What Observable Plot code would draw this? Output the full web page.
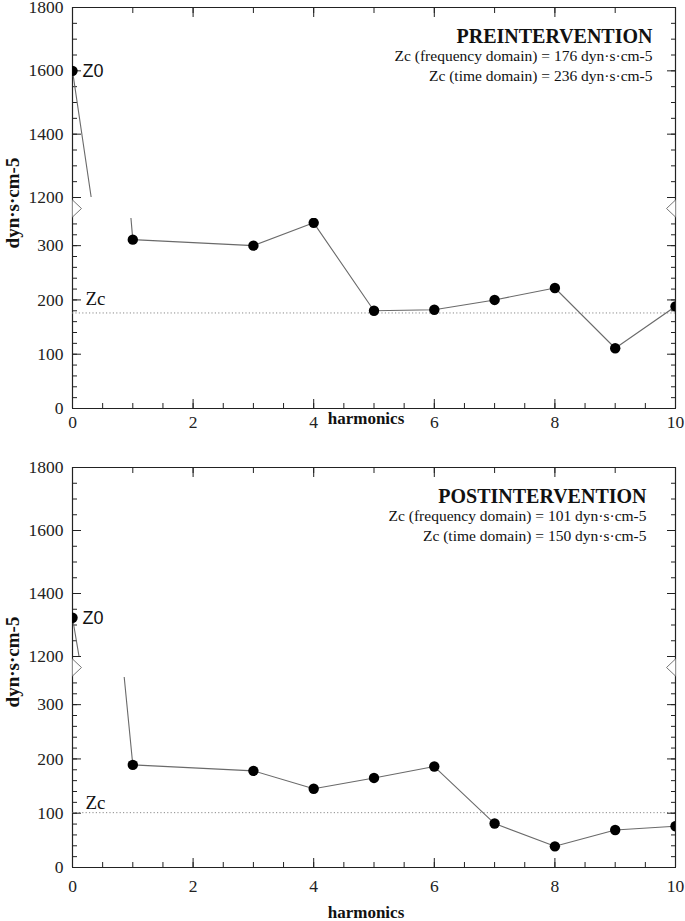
<!DOCTYPE html>
<html>
<head>
<meta charset="utf-8">
<script src="https://cdn.jsdelivr.net/npm/d3@7"></script>
<script src="https://cdn.jsdelivr.net/npm/@observablehq/plot@0.6"></script>
<style>
  html, body { margin: 0; padding: 0; background: #fff; }
  #chart { width: 685px; height: 921px; position: relative; overflow: hidden; }
  #chart svg { display: block; }
</style>
</head>
<body>
<div id="chart"></div>
<script>
// ---- data ----
const harmonics = [0, 1, 3, 4, 5, 6, 7, 8, 9, 10];
const preValues = [1600, 311, 300, 342, 180, 182, 200, 222, 111, 188];
const postValues = [1323, 189, 178, 145, 165, 186, 81, 39, 69, 76];
const zcFreq = [176, 101];
const zcTime = [236, 150];
const panelTitles = ["PREINTERVENTION", "POSTINTERVENTION"];
const unit = "dyn·s·cm-5";
const xMajorTicks = [0, 2, 4, 6, 8, 10];
const xTopTicks = d3.range(0, 10.01, 1);
const xBottomTicks = d3.range(0, 10.01, 0.5);
const yUpperMajor = [1200, 1400, 1600, 1800];
const yUpperMinor = d3.range(1200, 1801, 50);
const yLowerMajor = [0, 100, 200, 300];
const yLowerMinor = d3.range(0, 341, 20);

// ---- layout ----
const W = 685, ML = 72, MR = 10;
const layouts = [
  {upTop: 7, upH: 190, gapA: 10, loTop: 11, loH: 190, loBottom: 29, labelPad: 7, hDy: 10, txtDx: -23, zcDy: -14},
  {upTop: 30, upH: 189, gapA: 10, loTop: 11, loH: 190, loBottom: 54, labelPad: 12, hDy: 45, txtDx: -29, zcDy: -10}
];
const axisColor = "#222";
const serif = "Liberation Serif, Times New Roman, serif";
const sans = "Liberation Sans, Arial, sans-serif";
const svgStyle = {background: "transparent", overflow: "visible", fontFamily: serif, fontSize: "17px", color: axisColor};
const blank = () => "";
const plain = d => String(d);

const breakLeft = {draw(c) { c.moveTo(0, -8.5); c.lineTo(9, 0); c.lineTo(0, 8.5); }};
const breakRight = {draw(c) { c.moveTo(0, -8.5); c.lineTo(-9, 0); c.lineTo(0, 8.5); }};

function yTicks(major, minor) {
  return [
    Plot.axisY(minor, {anchor: "left", tickSize: -5, tickFormat: blank, label: null}),
    Plot.axisY(major, {anchor: "left", tickSize: -9, tickFormat: blank, label: null}),
    Plot.axisY(minor, {anchor: "right", tickSize: -5, tickFormat: blank, label: null}),
    Plot.axisY(major, {anchor: "right", tickSize: -9, tickFormat: blank, label: null}),
    Plot.axisY(major, {anchor: "left", tickSize: 0, tickPadding: 9, fontSize: 17.5, tickFormat: plain, label: null})
  ];
}

function makePanel(i, values) {
  const L = layouts[i];
  const data = harmonics.map((h, k) => ({h, v: values[k]}));
  const seriesMarks = [
    Plot.line(data, {x: "h", y: "v", stroke: "#6a6a6a", strokeWidth: 1.1, clip: true}),
    Plot.dot(data, {x: "h", y: "v", r: 5.2, fill: "#000", clip: true})
  ];

  const upper = Plot.plot({
    width: W, height: L.upTop + L.upH + L.gapA,
    marginLeft: ML, marginRight: MR, marginTop: L.upTop, marginBottom: L.gapA,
    x: {domain: [0, 10], axis: null},
    y: {domain: [1200, 1800], axis: null},
    style: svgStyle,
    marks: [
      Plot.ruleX([0, 10], {stroke: axisColor, strokeWidth: 1.2, insetBottom: -L.gapA}),
      Plot.ruleY([1800], {stroke: axisColor, strokeWidth: 1.2}),
      Plot.axisX(xTopTicks, {anchor: "top", tickSize: -5, tickFormat: blank, label: null}),
      Plot.axisX(xMajorTicks, {anchor: "top", tickSize: -9, tickFormat: blank, label: null}),
      ...yTicks(yUpperMajor, yUpperMinor),
      ...seriesMarks,
      Plot.text([data[0]], {x: "h", y: "v", text: () => "Z0", dx: 10, textAnchor: "start", fontFamily: sans, fontSize: 18, fill: "#111"}),
      Plot.text([panelTitles[i]], {frameAnchor: "top-right", dx: L.txtDx, dy: 29.5, textAnchor: "end", lineAnchor: "middle", fontWeight: "bold", fontSize: 20, fill: "#111"}),
      Plot.text([`Zc (frequency domain) = ${zcFreq[i]} ${unit}`], {frameAnchor: "top-right", dx: L.txtDx, dy: 49, textAnchor: "end", lineAnchor: "middle", fontSize: 15.5, fill: "#111"}),
      Plot.text([`Zc (time domain) = ${zcTime[i]} ${unit}`], {frameAnchor: "top-right", dx: L.txtDx, dy: 68.5, textAnchor: "end", lineAnchor: "middle", fontSize: 15.5, fill: "#111"})
    ]
  });

  const lower = Plot.plot({
    width: W, height: L.loTop + L.loH + L.loBottom,
    marginLeft: ML, marginRight: MR, marginTop: L.loTop, marginBottom: L.loBottom,
    x: {domain: [0, 10], axis: null},
    y: {domain: [0, 350], axis: null},
    style: svgStyle,
    marks: [
      Plot.ruleX([0, 10], {stroke: axisColor, strokeWidth: 1.2, insetTop: -L.loTop}),
      Plot.ruleY([0], {stroke: axisColor, strokeWidth: 1.2}),
      Plot.ruleY([zcFreq[i]], {stroke: "#8a8a8a", strokeWidth: 1, strokeDasharray: "1.2,2.2"}),
      Plot.text(["Zc"], {x: 0, y: zcFreq[i], dx: 13, dy: L.zcDy, textAnchor: "start", lineAnchor: "middle", fontSize: 19, fill: "#111"}),
      Plot.axisX(xBottomTicks, {anchor: "bottom", tickSize: -5, tickFormat: blank, label: null}),
      Plot.axisX(xMajorTicks, {anchor: "bottom", tickSize: -9, tickFormat: blank, label: null}),
      Plot.axisX(xMajorTicks, {anchor: "bottom", tickSize: 0, tickPadding: L.labelPad, fontSize: 17.5, tickFormat: plain, label: null}),
      ...yTicks(yLowerMajor, yLowerMinor),
      ...seriesMarks,
      Plot.dot([0], {x: d => d, y: () => 350, dy: -10, symbol: breakLeft, fill: "#fff", stroke: "#777", strokeWidth: 1}),
      Plot.dot([10], {x: d => d, y: () => 350, dy: -10, symbol: breakRight, fill: "#fff", stroke: "#777", strokeWidth: 1}),
      Plot.text([unit], {frameAnchor: "top-left", dx: -60, dy: -(L.loTop + (L.gapA - L.loTop) / 2 + 5), rotate: -90, textAnchor: "middle", lineAnchor: "middle", fontWeight: "bold", fontSize: 19, fill: "#111"}),
      Plot.text(["harmonics"], {frameAnchor: "bottom", dx: -8, dy: L.hDy, lineAnchor: "middle", fontWeight: "bold", fontSize: 17, fill: "#111"})
    ]
  });
  return [upper, lower];
}

const chart = document.getElementById("chart");
for (const svg of [...makePanel(0, preValues), ...makePanel(1, postValues)]) chart.appendChild(svg);
</script>
</body>
</html>
